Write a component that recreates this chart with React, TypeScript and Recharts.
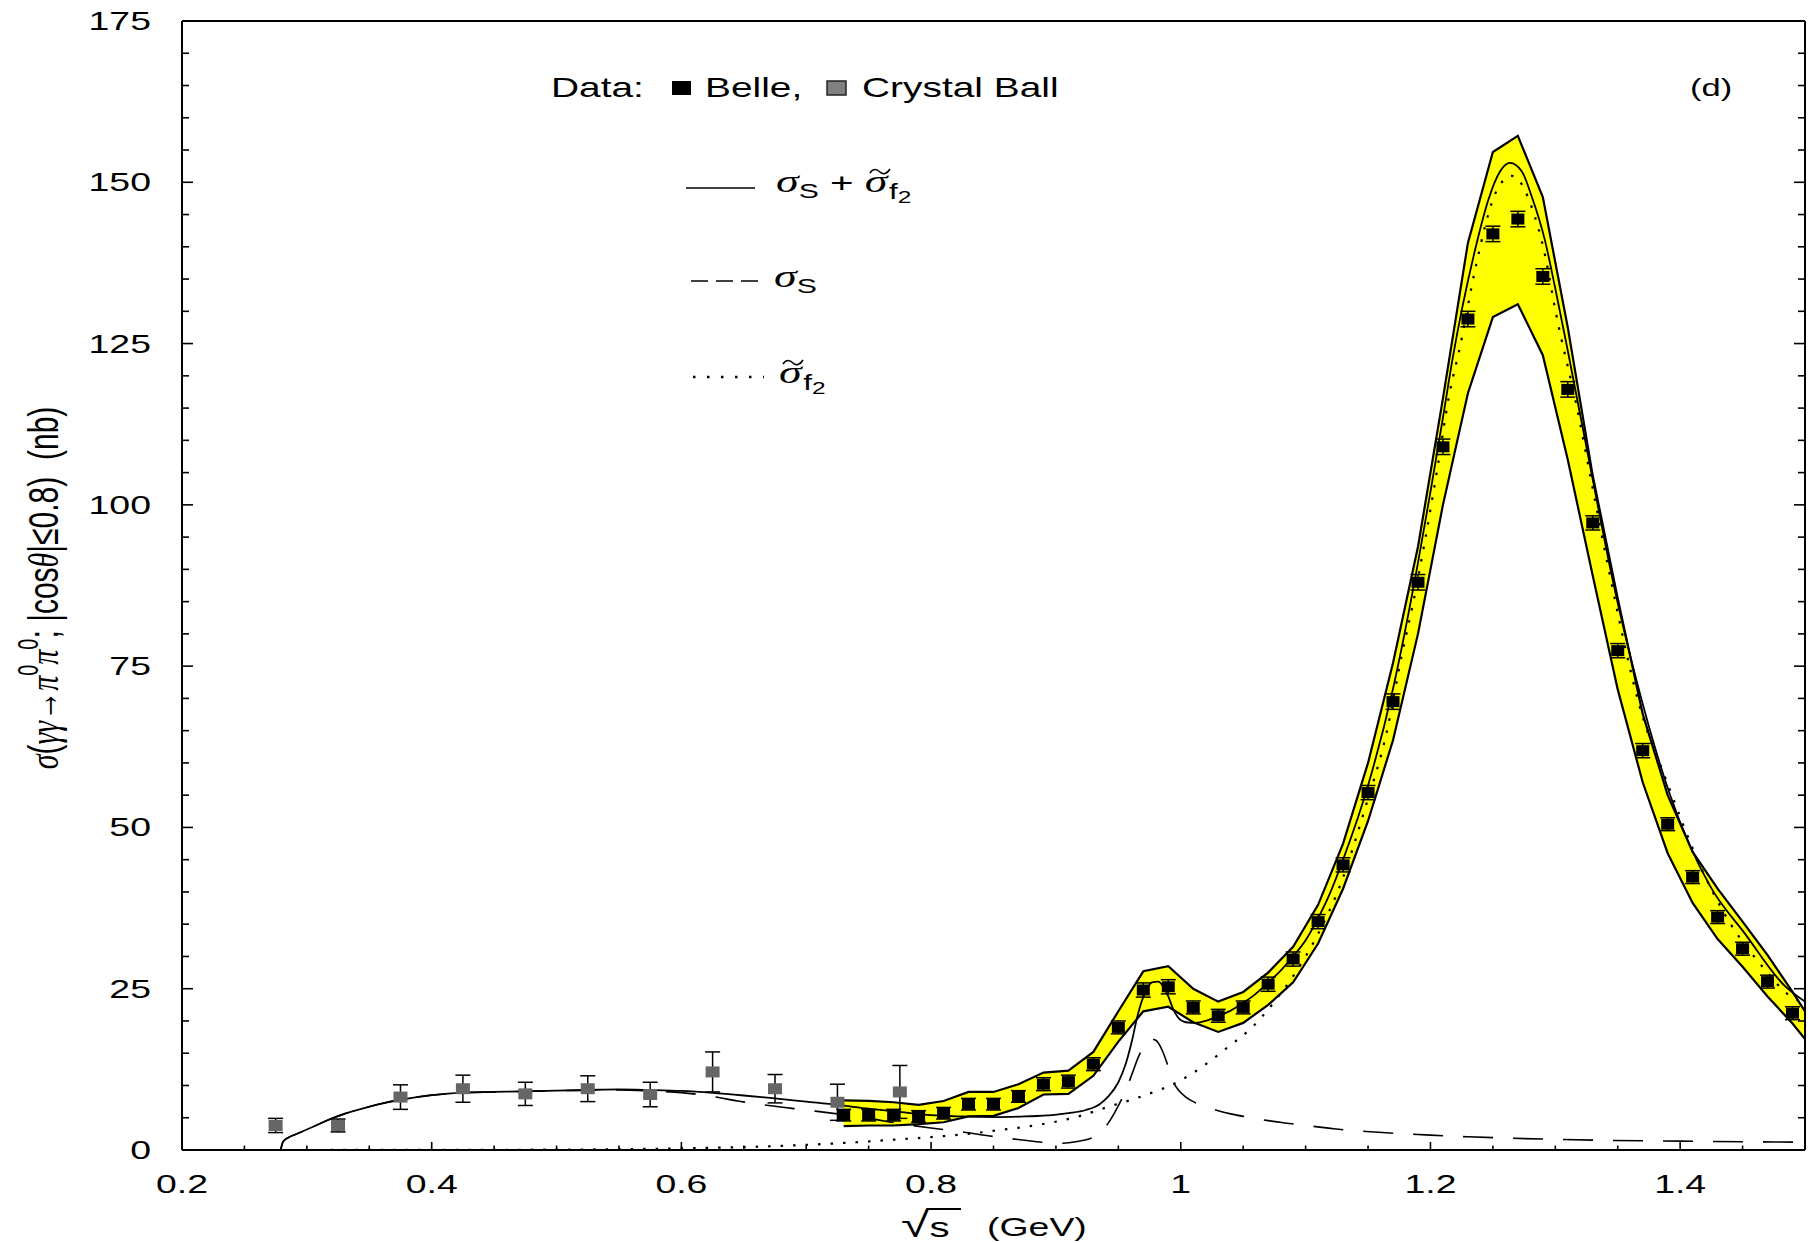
import { ComposedChart, XAxis, YAxis, Area, Line, Scatter, ErrorBar } from 'recharts'

// ---- data (sqrt(s) in GeV, sigma in nb) ----

// Belle points
const belleX = [0.73, 0.75, 0.77, 0.79, 0.81, 0.83, 0.85, 0.87, 0.89, 0.91, 0.93, 0.95, 0.97, 0.99, 1.01, 1.03, 1.05, 1.07, 1.09, 1.11, 1.13, 1.15, 1.17, 1.19, 1.21, 1.23, 1.25, 1.27, 1.29, 1.31, 1.33, 1.35, 1.37, 1.39, 1.41, 1.43, 1.45, 1.47, 1.49]
const belleY = [5.4, 5.4, 5.4, 5.2, 5.7, 7.1, 7.1, 8.3, 10.2, 10.6, 13.3, 19.0, 24.8, 25.3, 22.1, 20.8, 22.1, 25.7, 29.6, 35.4, 44.2, 55.4, 69.5, 88.0, 109.0, 128.8, 142.0, 144.3, 135.4, 117.9, 97.2, 77.4, 61.9, 50.5, 42.3, 36.1, 31.2, 26.1, 21.2]
const belleErr = [0.9, 0.9, 0.9, 0.9, 0.9, 0.9, 0.9, 0.9, 1.0, 1.0, 1.0, 1.0, 1.1, 1.1, 1.0, 1.0, 1.0, 1.1, 1.1, 1.1, 1.1, 1.1, 1.2, 1.2, 1.2, 1.2, 1.2, 1.2, 1.2, 1.2, 1.1, 1.1, 1.1, 1.0, 1.0, 1.0, 1.0, 1.0, 1.0]

// Crystal Ball points
const cbX = [0.275, 0.325, 0.375, 0.425, 0.475, 0.525, 0.575, 0.625, 0.675, 0.725, 0.775]
const cbY = [3.8, 3.8, 8.2, 9.5, 8.7, 9.5, 8.6, 12.1, 9.5, 7.4, 9.0]
const cbErr = [1.1, 1.0, 1.9, 2.1, 1.8, 2.0, 1.9, 3.1, 2.2, 2.8, 4.1]

// yellow error band
const bandX = [0.73, 0.75, 0.77, 0.79, 0.81, 0.83, 0.85, 0.87, 0.89, 0.91, 0.93, 0.95, 0.97, 0.99, 1.01, 1.03, 1.05, 1.07, 1.09, 1.11, 1.13, 1.15, 1.17, 1.19, 1.21, 1.23, 1.25, 1.27, 1.29, 1.31, 1.33, 1.35, 1.37, 1.39, 1.41, 1.43, 1.45, 1.47, 1.49, 1.5]
const bandHi = [7.7, 7.6, 7.4, 7.0, 7.6, 9.0, 9.0, 10.2, 12.0, 12.3, 15.2, 21.5, 27.7, 28.5, 25.0, 23.0, 24.5, 27.5, 31.5, 38.0, 47.5, 60.0, 75.5, 93.5, 116.5, 140.6, 154.7, 157.2, 147.7, 127.5, 104.5, 85.5, 67.6, 55.0, 46.2, 40.5, 35.4, 30.2, 24.5, 21.5]
const bandLo = [3.7, 3.8, 3.8, 4.0, 4.3, 5.2, 5.3, 6.5, 8.6, 8.7, 11.5, 16.8, 21.5, 22.2, 19.8, 18.3, 19.7, 22.5, 26.0, 32.0, 40.5, 51.0, 63.5, 80.0, 100.0, 117.3, 129.1, 131.1, 123.2, 107.0, 89.0, 71.4, 57.0, 46.0, 38.3, 32.7, 28.4, 23.8, 19.6, 17.2]

// sigma_S + sigma_f2 (solid)
const totalX = [0.279, 0.281, 0.285, 0.292, 0.305, 0.317, 0.33, 0.346, 0.36, 0.374, 0.4, 0.425, 0.45, 0.475, 0.5, 0.525, 0.55, 0.575, 0.6, 0.625, 0.65, 0.675, 0.7, 0.725, 0.75, 0.775, 0.8, 0.825, 0.85, 0.875, 0.897, 0.91, 0.924, 0.935, 0.942, 0.95, 0.956, 0.961, 0.965, 0.969, 0.973, 0.977, 0.982, 0.986, 0.99, 0.994, 0.998, 1.004, 1.012, 1.02, 1.028, 1.04, 1.049, 1.06, 1.068, 1.08, 1.089, 1.1, 1.108, 1.12, 1.13, 1.15, 1.17, 1.19, 1.2, 1.21, 1.2176, 1.2357, 1.2464, 1.2558, 1.2637, 1.2731, 1.2811, 1.2917, 1.2997, 1.3104, 1.3344, 1.346, 1.365, 1.392, 1.424, 1.452, 1.484, 1.5]
const totalY = [0, 1.3, 1.9, 2.5, 3.6, 4.65, 5.6, 6.5, 7.2, 7.75, 8.5, 8.9, 9.0, 9.1, 9.2, 9.3, 9.4, 9.3, 9.15, 8.85, 8.45, 8.0, 7.5, 7.0, 6.4, 5.9, 5.4, 5.2, 5.1, 5.2, 5.4, 5.7, 6.2, 7.1, 8.3, 10.5, 13.4, 17.0, 20.5, 23.2, 25.0, 26.0, 26.1, 25.3, 23.8, 21.8, 20.5, 19.8, 19.7, 20.0, 20.6, 21.6, 22.7, 24.2, 25.6, 27.8, 29.8, 32.5, 35.2, 40.0, 45.0, 56.5, 71.5, 91.0, 102.0, 113.5, 122.5, 139.5, 147.3, 151.7, 153.0, 151.7, 147.8, 141.0, 133.8, 123.5, 99.5, 88.3, 72.8, 55.0, 40.9, 33.5, 25.4, 23.0]

// sigma_S (dashed)
const scalarX = [0.279, 0.281, 0.285, 0.292, 0.305, 0.317, 0.33, 0.346, 0.36, 0.374, 0.4, 0.425, 0.45, 0.475, 0.5, 0.525, 0.55, 0.575, 0.6, 0.625, 0.645, 0.67, 0.7, 0.725, 0.75, 0.775, 0.8, 0.825, 0.85, 0.873, 0.892, 0.905, 0.913, 0.922, 0.93, 0.936, 0.942, 0.949, 0.956, 0.961, 0.966, 0.971, 0.976, 0.98, 0.985, 0.99, 0.994, 0.999, 1.004, 1.012, 1.02, 1.03, 1.04, 1.055, 1.07, 1.085, 1.1, 1.12, 1.135, 1.155, 1.175, 1.2, 1.23, 1.26, 1.3, 1.34, 1.4, 1.45, 1.5]
const scalarY = [0, 1.3, 1.9, 2.5, 3.6, 4.65, 5.6, 6.5, 7.2, 7.75, 8.5, 8.9, 9.0, 9.1, 9.2, 9.25, 9.3, 9.15, 8.9, 8.3, 7.6, 6.9, 6.2, 5.6, 4.9, 4.1, 3.4, 2.8, 2.1, 1.55, 1.15, 1.05, 1.2, 1.5, 2.0, 2.8, 4.2, 6.5, 9.3, 11.8, 14.4, 16.2, 17.2, 17.0, 15.5, 12.9, 10.6, 9.1, 8.2, 7.3, 6.7, 6.1, 5.6, 5.05, 4.55, 4.15, 3.8, 3.35, 3.05, 2.8, 2.55, 2.3, 2.05, 1.85, 1.65, 1.5, 1.38, 1.28, 1.2]

// sigma~_f2 (dotted)
const tensorX = [0.279, 0.4, 0.5, 0.55, 0.6, 0.65, 0.7, 0.74, 0.77, 0.8, 0.83, 0.855, 0.886, 0.916, 0.942, 0.97, 1.0, 1.018, 1.038, 1.057, 1.073, 1.1, 1.11, 1.128, 1.148, 1.165, 1.177, 1.186, 1.205, 1.215, 1.224, 1.236, 1.253, 1.265, 1.27, 1.281, 1.292, 1.3, 1.318, 1.33, 1.342, 1.371, 1.386, 1.418, 1.438, 1.466, 1.488, 1.5]
const tensorY = [0, 0.02, 0.06, 0.12, 0.25, 0.45, 0.8, 1.2, 1.6, 2.0, 2.5, 3.1, 3.9, 5.1, 6.7, 8.4, 10.8, 13.0, 16.0, 19.0, 22.5, 30.0, 33.5, 41.2, 53.2, 64.8, 76.7, 84.7, 105.0, 117.0, 124.8, 136.7, 148.7, 151.0, 150.5, 146.2, 138.5, 130.2, 114.5, 102.5, 90.7, 66.5, 58.8, 43.2, 35.8, 28.4, 23.9, 22.8]

// axis ticks
const xTicks = [0.2, 0.25, 0.3, 0.35, 0.4, 0.45, 0.5, 0.55, 0.6, 0.65, 0.7, 0.75, 0.8, 0.85, 0.9, 0.95, 1, 1.05, 1.1, 1.15, 1.2, 1.25, 1.3, 1.35, 1.4, 1.45, 1.5]
const xLabels = [0.2, 0.4, 0.6, 0.8, 1, 1.2, 1.4]
const yTicks = [0, 5, 10, 15, 20, 25, 30, 35, 40, 45, 50, 55, 60, 65, 70, 75, 80, 85, 90, 95, 100, 105, 110, 115, 120, 125, 130, 135, 140, 145, 150, 155, 160, 165, 170, 175]
const yLabels = [0, 25, 50, 75, 100, 125, 150, 175]

const SANS = '"Liberation Sans", Arial, Helvetica, sans-serif'
const SERIF = '"Liberation Serif", "DejaVu Serif", serif'
const SX = 1.44 // the original figure is stretched horizontally

const belleData = belleX.map((x, i) => ({ x, y: belleY[i], err: belleErr[i] }))
const cbData = cbX.map((x, i) => ({ x, y: cbY[i], err: cbErr[i] }))
const bandData = bandX.map((x, i) => ({ x, lo: bandLo[i], hi: bandHi[i] }))
const totalData = totalX.map((x, i) => ({ x, y: totalY[i] }))
const scalarData = scalarX.map((x, i) => ({ x, y: scalarY[i] }))
const tensorData = tensorX.map((x, i) => ({ x, y: tensorY[i] }))

const isLabelX = (v: number) => xLabels.some(l => Math.abs(l - v) < 1e-9)
const isMajorX = (v: number) => isLabelX(v) || Math.abs(v - 1.5) < 1e-9

// ticks point into the frame; with tickSize/tickMargin 0 the tick x,y sit on the axis line
function LeftTick(props: any) {
  const { x, y, payload } = props
  const v = payload.value
  const major = yLabels.includes(v)
  return (
    <g>
      <line x1={x} x2={x + (major ? 11 : 7)} y1={y} y2={y} stroke="#000" strokeWidth={1.6} />
      {major && (
        <text transform={`translate(${x - 31},${y + 9}) scale(${SX},1)`} textAnchor="end" fontSize={26} fontFamily={SANS} fill="#000">
          {v}
        </text>
      )}
    </g>
  )
}

function RightTick(props: any) {
  const { x, y, payload } = props
  const major = yLabels.includes(payload.value)
  return <line x1={x} x2={x - (major ? 11 : 7)} y1={y} y2={y} stroke="#000" strokeWidth={1.6} />
}

function BottomTick(props: any) {
  const { x, y, payload } = props
  const v = payload.value
  return (
    <g>
      <line x1={x} x2={x} y1={y} y2={y - (isMajorX(v) ? 8 : 4.5)} stroke="#000" strokeWidth={1.6} />
      {isLabelX(v) && (
        <text transform={`translate(${x},${y + 43}) scale(${SX},1)`} textAnchor="middle" fontSize={26} fontFamily={SANS} fill="#000">
          {String(v)}
        </text>
      )}
    </g>
  )
}

function TopTick(props: any) {
  const { x, y, payload } = props
  return <line x1={x} x2={x} y1={y} y2={y + (isMajorX(payload.value) ? 8 : 4.5)} stroke="#000" strokeWidth={1.6} />
}

const belleShape = (p: any) => <rect x={p.cx - 6.5} y={p.cy - 5.5} width={13} height={11} fill="#000" />
const cbShape = (p: any) => <rect x={p.cx - 7} y={p.cy - 5.5} width={14} height={11} fill="#666" />

// small wave drawn over a sigma glyph
const tilde = (x: number, y: number) => (
  <path d={`M${x},${y + 2} C${x + 3},${y - 3} ${x + 7},${y - 2} ${x + 10},${y + 1} C${x + 13},${y + 4} ${x + 17},${y + 3} ${x + 20},${y - 2}`} fill="none" stroke="#000" strokeWidth={1.6} />
)

function Overlay() {
  const t = (x: number, y: number) => `translate(${x},${y}) scale(${SX},1)`
  return (
    <svg width={1816} height={1243} style={{ position: 'absolute', left: 0, top: 0, pointerEvents: 'none' }}>
      {/* data legend */}
      <text transform={t(551, 97)} fontSize={27} fontFamily={SANS}>Data:</text>
      <rect x={672} y={81} width={19} height={14} fill="#000" />
      <text transform={t(705, 97)} fontSize={27} fontFamily={SANS}>Belle,</text>
      <rect x={827} y={81} width={19} height={14} fill="#808080" stroke="#222" strokeWidth={1.5} />
      <text transform={t(862, 97)} fontSize={27} fontFamily={SANS}>Crystal Ball</text>
      <text transform={t(1690, 96)} fontSize={24} fontFamily={SANS}>(d)</text>

      {/* curve legend */}
      <line x1={686} x2={755} y1={188} y2={188} stroke="#000" strokeWidth={1.5} />
      <text transform={t(776, 192)} fontFamily={SANS}>
        <tspan fontFamily={SERIF} fontStyle="italic" fontSize={32}>σ</tspan>
        <tspan fontSize={21} dy={6}>S</tspan>
        <tspan fontSize={28} dy={-6}> + </tspan>
        <tspan fontFamily={SERIF} fontStyle="italic" fontSize={32}>σ</tspan>
        <tspan fontSize={22} dx={1} dy={7}>f</tspan>
        <tspan fontSize={17} dy={4}>2</tspan>
      </text>
      {tilde(870, 171)}

      <line x1={691} x2={761} y1={281} y2={281} stroke="#000" strokeWidth={1.5} strokeDasharray="17 8" />
      <text transform={t(774, 287)} fontFamily={SANS}>
        <tspan fontFamily={SERIF} fontStyle="italic" fontSize={32}>σ</tspan>
        <tspan fontSize={21} dy={6}>S</tspan>
      </text>

      <line x1={693} x2={764} y1={377} y2={377} stroke="#000" strokeWidth={2.5} strokeDasharray="2.5 11.5" />
      <text transform={t(779, 383)} fontFamily={SANS}>
        <tspan fontFamily={SERIF} fontStyle="italic" fontSize={32}>σ</tspan>
        <tspan fontSize={22} dx={1} dy={7}>f</tspan>
        <tspan fontSize={17} dy={4}>2</tspan>
      </text>
      {tilde(783, 362)}

      {/* x axis title */}
      <text transform={t(901, 1237)} fontFamily={SANS}>
        <tspan fontSize={36}>√</tspan>
        <tspan fontSize={28}>s</tspan>
      </text>
      <line x1={927} x2={961} y1={1209} y2={1209} stroke="#000" strokeWidth={2} />
      <text transform={t(987, 1236)} fontSize={26} fontFamily={SANS}>(GeV)</text>

      {/* y axis title */}
      <text transform={`translate(58,588) scale(${SX},1) rotate(-90)`} textAnchor="middle" fontSize={30} fontFamily={SANS}>
        <tspan fontFamily={SERIF} fontStyle="italic">σ</tspan>
        <tspan>(</tspan>
        <tspan fontFamily={SERIF} fontStyle="italic">γγ</tspan>
        <tspan>→</tspan>
        <tspan fontFamily={SERIF} fontStyle="italic">π</tspan>
        <tspan fontSize={20} dy={-14}>0</tspan>
        <tspan fontFamily={SERIF} fontStyle="italic" dy={14}>π</tspan>
        <tspan fontSize={20} dy={-14}>0</tspan>
        <tspan dy={14}>; |cos</tspan>
        <tspan fontFamily={SERIF} fontStyle="italic">θ</tspan>
        <tspan>{'|≤0.8)\u00a0\u00a0(nb)'}</tspan>
      </text>
    </svg>
  )
}

export default function App() {
  return (
    <div style={{ position: 'relative', width: 1816, height: 1243, background: '#fff' }}>
      <style>{'body{margin:0}'}</style>
      <ComposedChart width={1816} height={1243} margin={{ top: 20, right: 10, bottom: 0, left: 0 }}>
        <XAxis
          dataKey="x"
          type="number"
          domain={[0.2, 1.5]}
          ticks={xTicks}
          interval={0}
          allowDataOverflow
          height={93}
          tickSize={0}
          tickMargin={0}
          tickLine={false}
          tick={<BottomTick />}
          axisLine={{ stroke: '#000', strokeWidth: 2 }}
        />
        <XAxis
          xAxisId="top"
          orientation="top"
          type="number"
          domain={[0.2, 1.5]}
          ticks={xTicks}
          interval={0}
          allowDataOverflow
          height={1}
          tickSize={0}
          tickMargin={0}
          tickLine={false}
          tick={<TopTick />}
          axisLine={{ stroke: '#000', strokeWidth: 2 }}
        />
        <YAxis
          dataKey="y"
          type="number"
          domain={[0, 175]}
          ticks={yTicks}
          interval={0}
          allowDataOverflow
          width={182}
          tickSize={0}
          tickMargin={0}
          tickLine={false}
          tick={<LeftTick />}
          axisLine={{ stroke: '#000', strokeWidth: 2 }}
        />
        <YAxis
          yAxisId="right"
          orientation="right"
          type="number"
          domain={[0, 175]}
          ticks={yTicks}
          interval={0}
          allowDataOverflow
          width={1}
          tickSize={0}
          tickMargin={0}
          tickLine={false}
          tick={<RightTick />}
          axisLine={{ stroke: '#000', strokeWidth: 2 }}
        />

        <Area
          data={bandData}
          dataKey={(d: any) => [d.lo, d.hi]}
          type="linear"
          fill="#ffff00"
          fillOpacity={1}
          stroke="#000"
          strokeWidth={2.2}
          isAnimationActive={false}
        />
        <Line data={tensorData} dataKey="y" type="monotone" stroke="#000" strokeWidth={2.2} strokeDasharray="2.5 10" dot={false} activeDot={false} isAnimationActive={false} />
        <Line data={scalarData} dataKey="y" type="monotone" stroke="#000" strokeWidth={1.6} strokeDasharray="30 20" dot={false} activeDot={false} isAnimationActive={false} />
        <Line data={totalData} dataKey="y" type="monotone" stroke="#000" strokeWidth={1.8} dot={false} activeDot={false} isAnimationActive={false} />

        <Scatter data={cbData} dataKey="y" shape={cbShape} isAnimationActive={false}>
          <ErrorBar dataKey="err" direction="y" width={7.5} stroke="#000" strokeWidth={1.5} />
        </Scatter>
        <Scatter data={belleData} dataKey="y" shape={belleShape} isAnimationActive={false}>
          <ErrorBar dataKey="err" direction="y" width={7.5} stroke="#000" strokeWidth={1.5} />
        </Scatter>
      </ComposedChart>
      <Overlay />
    </div>
  )
}
